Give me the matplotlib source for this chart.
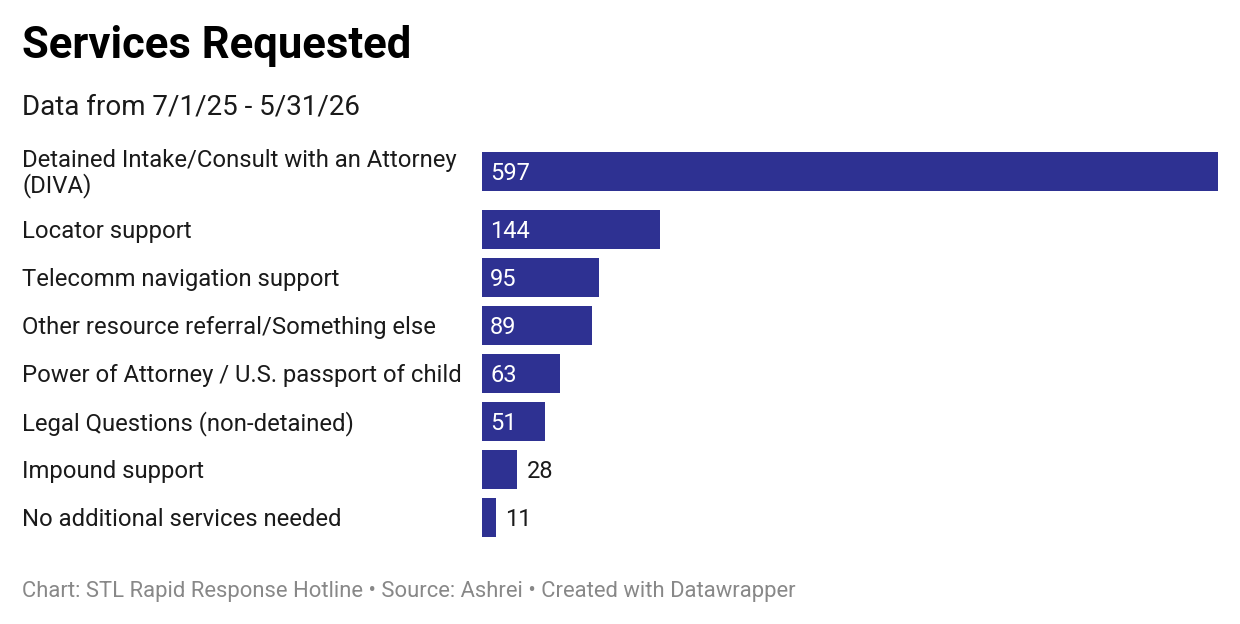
import matplotlib.pyplot as plt
import numpy as np

plt.rcParams['font.family'] = ['Roboto', 'DejaVu Sans']

# Chart data
categories = [
    "Detained Intake/Consult with an Attorney\n(DIVA)",
    "Locator support",
    "Telecomm navigation support",
    "Other resource referral/Something else",
    "Power of Attorney / U.S. passport of child",
    "Legal Questions (non-detained)",
    "Impound support",
    "No additional services needed",
]
values = [597, 144, 95, 89, 63, 51, 28, 11]

title = "Services Requested"
subtitle = "Data from 7/1/25 - 5/31/26"
footer = "Chart: STL Rapid Response Hotline \u2022 Source: Ashrei \u2022 Created with Datawrapper"

bar_color = '#2e3192'
W, H = 1240, 624

fig = plt.figure(figsize=(W / 100, H / 100), dpi=100)

# row layout in pixels: first row is taller because its label wraps
row_pitch = 48
first_extra = 10
bar_h = 39
top_px = 152
centers = top_px + bar_h / 2 + np.arange(len(values)) * row_pitch
centers[1:] += first_extra
bottom_px = centers[-1] + bar_h / 2

left_px, right_px = 482, 1218
ax = fig.add_axes([left_px / W, 1 - bottom_px / H, (right_px - left_px) / W, (bottom_px - top_px) / H])
ax.barh(centers, values, height=bar_h, color=bar_color)
ax.set_xlim(0, max(values))
ax.set_ylim(bottom_px, top_px)
ax.axis('off')

px_per_unit = (right_px - left_px) / max(values)
nudge = 2  # px, push text down a bit to match optical centring
for c, v, label in zip(centers, values, categories):
    if v >= 50:
        ax.text(8 / px_per_unit, c + nudge, str(v), color='white', fontsize=17, va='center', ha='left')
    else:
        ax.text(v + 10 / px_per_unit, c + nudge, str(v), color='#1a1a1a', fontsize=17, va='center', ha='left')
    fig.text(22 / W, 1 - (c + nudge) / H, label, fontsize=17.2, color='#1a1a1a', va='center', ha='left',
             linespacing=1.1)

fig.text(22 / W, 1 - 46 / H, title, fontsize=31.4, fontweight='bold', color='black', va='center', ha='left')
fig.text(22 / W, 1 - 107 / H, subtitle, fontsize=20, color='#1a1a1a', va='center', ha='left')
fig.text(22 / W, 1 - 591 / H, footer, fontsize=15.85, color='#888888', va='center', ha='left')

fig.savefig('out.png', dpi=100, facecolor='white')
